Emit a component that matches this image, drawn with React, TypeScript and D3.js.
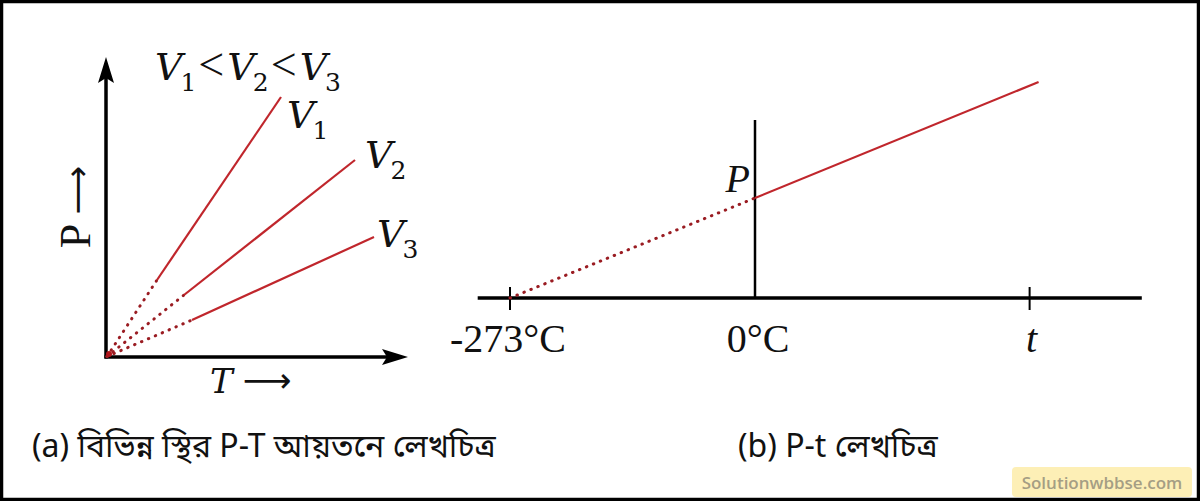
import { useRef, useEffect } from 'react';
import * as d3 from 'd3';

// Panel (a): P-T lines for three constant volumes
const volumeLabels = ['1', '2', '3'];
const breakT = [51, 78, 86];
const breakP = [77, 62, 37];
const endT = [175, 249, 268];
const endP = [260, 197, 120];

// Panel (b): P-t line
const celsiusPoints = [-273, 0, 316];
const pressurePoints = [0, 1, 2.16];
const tickLabels = ['-273°C', '0°C', 't'];
const tickValues = [-273, 0, 306];

const captionA = '(a) বিভিন্ন স্থির P-T আয়তনে লেখচিত্র';
const captionB = '(b) P-t লেখচিত্র';

const RED = '#c0262c';
const DOT = '#9a1c22';
const SERIF = "'Liberation Serif', 'DejaVu Serif', serif";
const MATH = "'DejaVu Serif', serif";
const ARROW = "'DejaVu Sans', sans-serif";

export default function App() {
  const ref = useRef<SVGSVGElement | null>(null);

  useEffect(() => {
    document.body.style.margin = '0';
    const svg = d3.select(ref.current);
    svg.selectAll('*').remove();

    svg.append('rect')
      .attr('x', 1.5).attr('y', 1.5)
      .attr('width', 1197).attr('height', 498)
      .attr('fill', '#fff')
      .attr('stroke', '#000')
      .attr('stroke-width', 3.5);

    // ---------- panel (a) ----------
    const x = d3.scaleLinear().domain([0, 300]).range([106, 406]);
    const y = d3.scaleLinear().domain([0, 300]).range([357, 57]);

    const a = svg.append('g');
    a.append('line')
      .attr('x1', x(0)).attr('x2', x(0))
      .attr('y1', y(0) + 1.5).attr('y2', y(282))
      .attr('stroke', '#000').attr('stroke-width', 3.5);
    a.append('line')
      .attr('x1', x(0) - 1.5).attr('x2', x(282))
      .attr('y1', y(0)).attr('y2', y(0))
      .attr('stroke', '#000').attr('stroke-width', 3.5);
    // arrowheads
    a.append('path')
      .attr('d', `M${x(0)},${y(300)} L${x(0) - 8},${y(274)} L${x(0)},${y(279)} L${x(0) + 8},${y(274)} Z`)
      .attr('fill', '#000');
    a.append('path')
      .attr('d', `M${x(302)},${y(0)} L${x(276)},${y(0) - 8} L${x(281)},${y(0)} L${x(276)},${y(0) + 8} Z`)
      .attr('fill', '#000');

    const line = d3.line<[number, number]>().x((d) => x(d[0])).y((d) => y(d[1]));
    volumeLabels.forEach((_, i) => {
      a.append('path')
        .attr('d', line([[1, 0.5], [breakT[i], breakP[i]]]))
        .attr('stroke', DOT).attr('stroke-width', 3)
        .attr('stroke-linecap', 'round')
        .attr('stroke-dasharray', '0.5 7')
        .attr('fill', 'none');
      a.append('path')
        .attr('d', line([[breakT[i], breakP[i]], [endT[i], endP[i]]]))
        .attr('stroke', RED).attr('stroke-width', 2.2)
        .attr('fill', 'none');
    });
    a.append('circle')
      .attr('cx', x(3)).attr('cy', y(3))
      .attr('r', 3).attr('fill', '#b0161c');

    // end labels V1, V2, V3
    const labelDx = [6, 10, 3];
    const labelDy = [31, 8, 10];
    volumeLabels.forEach((s, i) => {
      const t = a.append('text')
        .attr('x', x(endT[i]) + labelDx[i]).attr('y', y(endP[i]) + labelDy[i])
        .attr('font-family', MATH).attr('font-style', 'italic')
        .attr('font-size', 38).attr('fill', '#111');
      t.append('tspan').text('V');
      t.append('tspan').attr('font-style', 'normal').attr('font-size', 25).attr('dx', -2).attr('dy', 11).text(s);
    });

    // V1<V2<V3
    const head = a.append('text')
      .attr('x', 155).attr('y', 80)
      .attr('font-family', MATH).attr('font-size', 38).attr('fill', '#111');
    volumeLabels.forEach((s, i) => {
      head.append('tspan').attr('font-style', 'italic').attr('dx', i === 0 ? 0 : 3).attr('dy', 0).text('V');
      head.append('tspan').attr('font-size', 25).attr('dx', -2).attr('dy', 11).text(s);
      if (i < 2) {
        head.append('tspan')
          .attr('font-family', SERIF).attr('font-size', 46)
          .attr('dx', 2).attr('dy', -11).text('<');
      }
    });

    // axis titles
    const pt = a.append('text')
      .attr('transform', `translate(90,207) rotate(-90)`)
      .attr('text-anchor', 'middle')
      .attr('font-family', SERIF).attr('font-size', 44).attr('fill', '#111');
    pt.append('tspan').text('P ');
    pt.append('tspan').attr('font-family', ARROW).attr('font-size', 34).attr('dy', -1).text('⟶');

    const tl = a.append('text')
      .attr('x', 210).attr('y', 393)
      .attr('font-family', MATH).attr('font-size', 34).attr('fill', '#111');
    tl.append('tspan').attr('font-style', 'italic').text('T');
    tl.append('tspan').attr('font-family', ARROW).attr('font-size', 34).attr('dx', 10).attr('dy', -1).text('⟶');

    // ---------- panel (b) ----------
    const tx = d3.scaleLinear().domain([-273, 0]).range([510, 755]);
    const py = d3.scaleLinear().domain([0, 1]).range([298, 198]);
    const b = svg.append('g');

    b.append('line')
      .attr('x1', tx(-309)).attr('x2', tx(431))
      .attr('y1', py(0)).attr('y2', py(0))
      .attr('stroke', '#000').attr('stroke-width', 3.5);
    b.append('line')
      .attr('x1', tx(0)).attr('x2', tx(0))
      .attr('y1', py(0)).attr('y2', py(1.78))
      .attr('stroke', '#000').attr('stroke-width', 2.5);
    tickValues.forEach((v, i) => {
      if (i === 1) return;
      b.append('line')
        .attr('x1', tx(v)).attr('x2', tx(v))
        .attr('y1', py(0) - 11).attr('y2', py(0) + 12)
        .attr('stroke', '#000').attr('stroke-width', 2);
    });

    const pl = d3.line<number>().x((d) => tx(celsiusPoints[d])).y((d) => py(pressurePoints[d]));
    b.append('path')
      .attr('d', pl([0, 1]))
      .attr('stroke', DOT).attr('stroke-width', 3)
      .attr('stroke-linecap', 'round')
      .attr('stroke-dasharray', '0.5 7')
      .attr('fill', 'none');
    b.append('path')
      .attr('d', pl([1, 2]))
      .attr('stroke', RED).attr('stroke-width', 2.2)
      .attr('fill', 'none');

    tickValues.forEach((v, i) => {
      b.append('text')
        .attr('x', tx(v) + (i === 2 ? 2 : i === 1 ? 3 : -2))
        .attr('y', 352)
        .attr('text-anchor', 'middle')
        .attr('font-family', SERIF)
        .attr('font-style', i === 2 ? 'italic' : 'normal')
        .attr('font-size', 40).attr('fill', '#111')
        .text(tickLabels[i]);
    });
    b.append('text')
      .attr('x', tx(0) - 5).attr('y', py(1) - 6)
      .attr('text-anchor', 'end')
      .attr('font-family', SERIF).attr('font-style', 'italic')
      .attr('font-size', 40).attr('fill', '#111')
      .text('P');

    // ---------- captions ----------
    const cap = (s: string, px: number) =>
      svg.append('text')
        .attr('x', px).attr('y', 457)
        .attr('font-family', "'Noto Sans', 'Noto Sans Bengali', sans-serif")
        .attr('font-size', 32).attr('fill', '#111')
        .text(s);
    cap(captionA, 32);
    cap(captionB, 738);

    svg.append('rect')
      .attr('x', 1012).attr('y', 467)
      .attr('width', 180).attr('height', 30)
      .attr('rx', 4)
      .attr('fill', '#fdefb6');
    svg.append('text')
      .attr('x', 1102).attr('y', 489)
      .attr('text-anchor', 'middle')
      .attr('font-family', "'Open Sans', sans-serif")
      .attr('font-weight', 600)
      .attr('font-size', 17).attr('fill', '#a59e84')
      .text('Solutionwbbse.com');
  }, []);

  return (
    <svg
      ref={ref}
      width={1200}
      height={501}
      style={{ position: 'fixed', left: 0, top: 0, background: '#fff' }}
    />
  );
}
